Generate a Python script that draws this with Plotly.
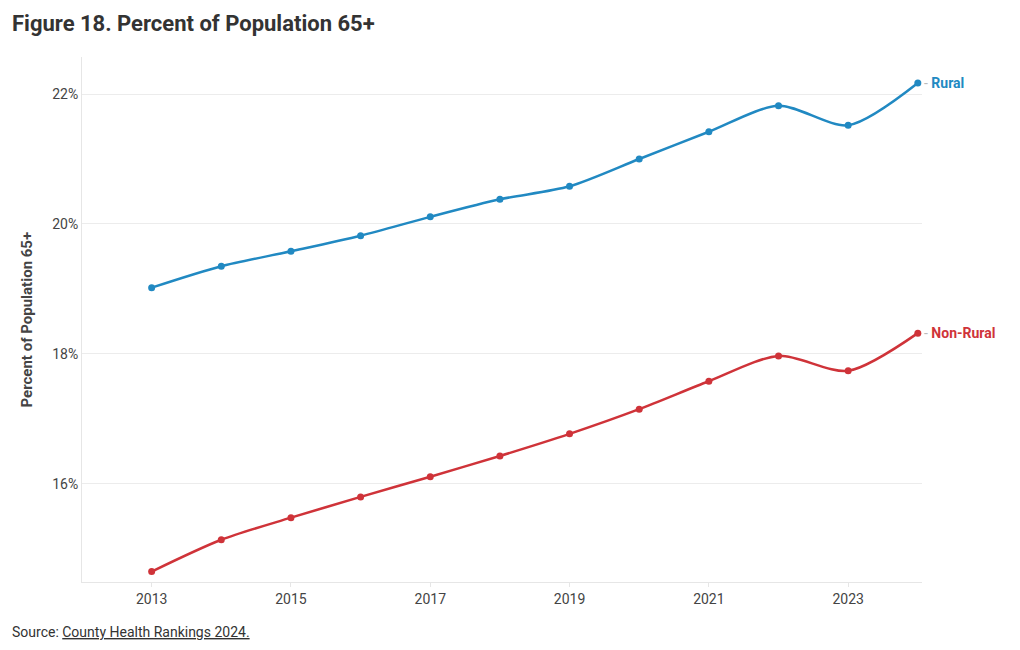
import plotly.graph_objects as go

years = [2013, 2014, 2015, 2016, 2017, 2018, 2019, 2020, 2021, 2022, 2023, 2024]
rural = [19.02, 19.35, 19.58, 19.82, 20.11, 20.38, 20.58, 21.00, 21.42, 21.82, 21.52, 22.17]
non_rural = [14.65, 15.14, 15.48, 15.80, 16.11, 16.43, 16.77, 17.15, 17.58, 17.97, 17.74, 18.32]
series_names = ["Rural", "Non-Rural"]
colors = ["#2189c2", "#cf3339"]
x_ticks = [2013, 2015, 2017, 2019, 2021, 2023]
y_ticks = [16, 18, 20, 22]
y_tick_labels = ["16%", "18%", "20%", "22%"]

fig = go.Figure()
for name, vals, col in zip(series_names, [rural, non_rural], colors):
    fig.add_trace(go.Scatter(
        x=years, y=vals, mode="lines+markers", name=name,
        line=dict(color=col, width=2.5, shape="spline", smoothing=0.8),
        marker=dict(color=col, size=7),
        hovertemplate="%{x}: %{y:.1f}%<extra>" + name + "</extra>",
    ))
    fig.add_annotation(
        x=years[-1], y=vals[-1], xref="x", yref="y",
        text="<span style='color:#bbb'>-</span> <b>" + name + "</b>",
        showarrow=False, xanchor="left", xshift=4,
        font=dict(family="Roboto", size=14, color=col),
    )

fig.update_layout(
    width=1004, height=634,
    margin=dict(l=74, r=90, t=49, b=60),
    paper_bgcolor="white", plot_bgcolor="white",
    showlegend=False,
    font=dict(family="Roboto", color="#444", size=14),
)
fig.update_xaxes(
    range=[2012, 2024.06], tickvals=x_ticks,
    showgrid=False, showline=True, linecolor="#e6e6e6", linewidth=1,
    ticks="outside", ticklen=4, tickcolor="#e6e6e6",
    tickfont=dict(family="Roboto", size=14, color="#444"), zeroline=False,
)
fig.update_yaxes(
    range=[14.49, 22.57], tickmode="array", tickvals=y_ticks, ticktext=y_tick_labels,
    showgrid=True, gridcolor="#ececec", showline=True, linecolor="#e6e6e6",
    tickfont=dict(family="Roboto", size=14, color="#444"), zeroline=False,
)
fig.add_annotation(
    x=-0.0857, y=1.0629, xref="paper", yref="paper", xanchor="left", yanchor="middle",
    text="<b>Figure 18. Percent of Population 65+</b>", showarrow=False,
    font=dict(family="Roboto", size=22, color="#333"),
)
fig.add_annotation(
    x=-0.0655, y=0.5, xref="paper", yref="paper", xanchor="center", yanchor="middle",
    text="<b>Percent of Population 65+</b>", showarrow=False, textangle=-90,
    font=dict(family="Roboto", size=15, color="#444"),
)
fig.add_annotation(
    x=-0.0857, y=-0.0952, xref="paper", yref="paper", xanchor="left", yanchor="middle",
    text="Source: <u>County Health Rankings 2024.</u>", showarrow=False,
    font=dict(family="Roboto", size=14, color="#333"),
)
fig.write_html("out.html")
